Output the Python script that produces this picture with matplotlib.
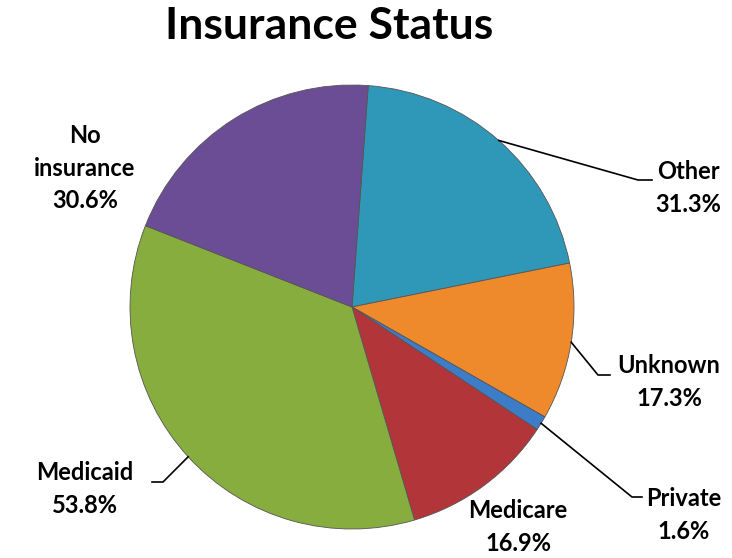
import numpy as np
import matplotlib
matplotlib.use("Agg")
import matplotlib.pyplot as plt

# data (clockwise from the top)
categories = ["Other", "Unknown", "Private", "Medicare", "Medicaid", "No\ninsurance"]
values = [31.3, 17.3, 1.6, 16.9, 53.8, 30.6]
colors = ["#2f98b8", "#ef8a2c", "#3d7cc6", "#b23539", "#88ad3f", "#6b4d95"]

plt.rcParams['font.family'] = ['Lato', 'DejaVu Sans']

W, H = 732, 558
fig = plt.figure(figsize=(W / 100, H / 100), dpi=100)
ax = fig.add_axes([0, 0, 1, 1])

cx, cy, r = 352, H - 307, 222
start = 85.8
wedges, _ = ax.pie(values, colors=colors, startangle=start, counterclock=False,
                   center=(cx, cy), radius=r,
                   wedgeprops=dict(edgecolor="#555555", linewidth=0.6))
ax.set_xlim(0, W)
ax.set_ylim(0, H)
ax.set_aspect('equal')
ax.axis('off')

# label positions (pixel coords, y from top) and leader elbows
label_pos = {
    "Other": (688, 188),
    "Unknown": (669, 382),
    "Private": (684, 515),
    "Medicare": (518, 527),
    "Medicaid": (85, 489),
    "No\ninsurance": (85, 168),
}
elbows = {
    "Other": ((638, 180), (652, 180)),
    "Unknown": ((598, 375), (610, 375)),
    "Private": ((632, 497), (642, 497)),
    "Medicaid": ((163, 482), (152, 482)),
}

for w, cat, v in zip(wedges, categories, values):
    x, y = label_pos[cat]
    ax.text(x, H - y, f"{cat}\n{v:.1f}%", ha='center', va='center',
            fontsize=17, fontweight='bold', color='black', linespacing=1.5)
    if cat in elbows:
        mid = np.deg2rad((w.theta1 + w.theta2) / 2)
        sx, sy = cx + r * np.cos(mid), cy + r * np.sin(mid)
        (ex, ey), (hx, hy) = elbows[cat]
        ax.plot([sx, ex, hx], [sy, H - ey, H - hy], color='black', lw=1.2)

ax.text(329, H - 26, "Insurance Status", ha='center', va='center',
        fontsize=32, fontweight='bold')

fig.savefig("out.png", dpi=100)
